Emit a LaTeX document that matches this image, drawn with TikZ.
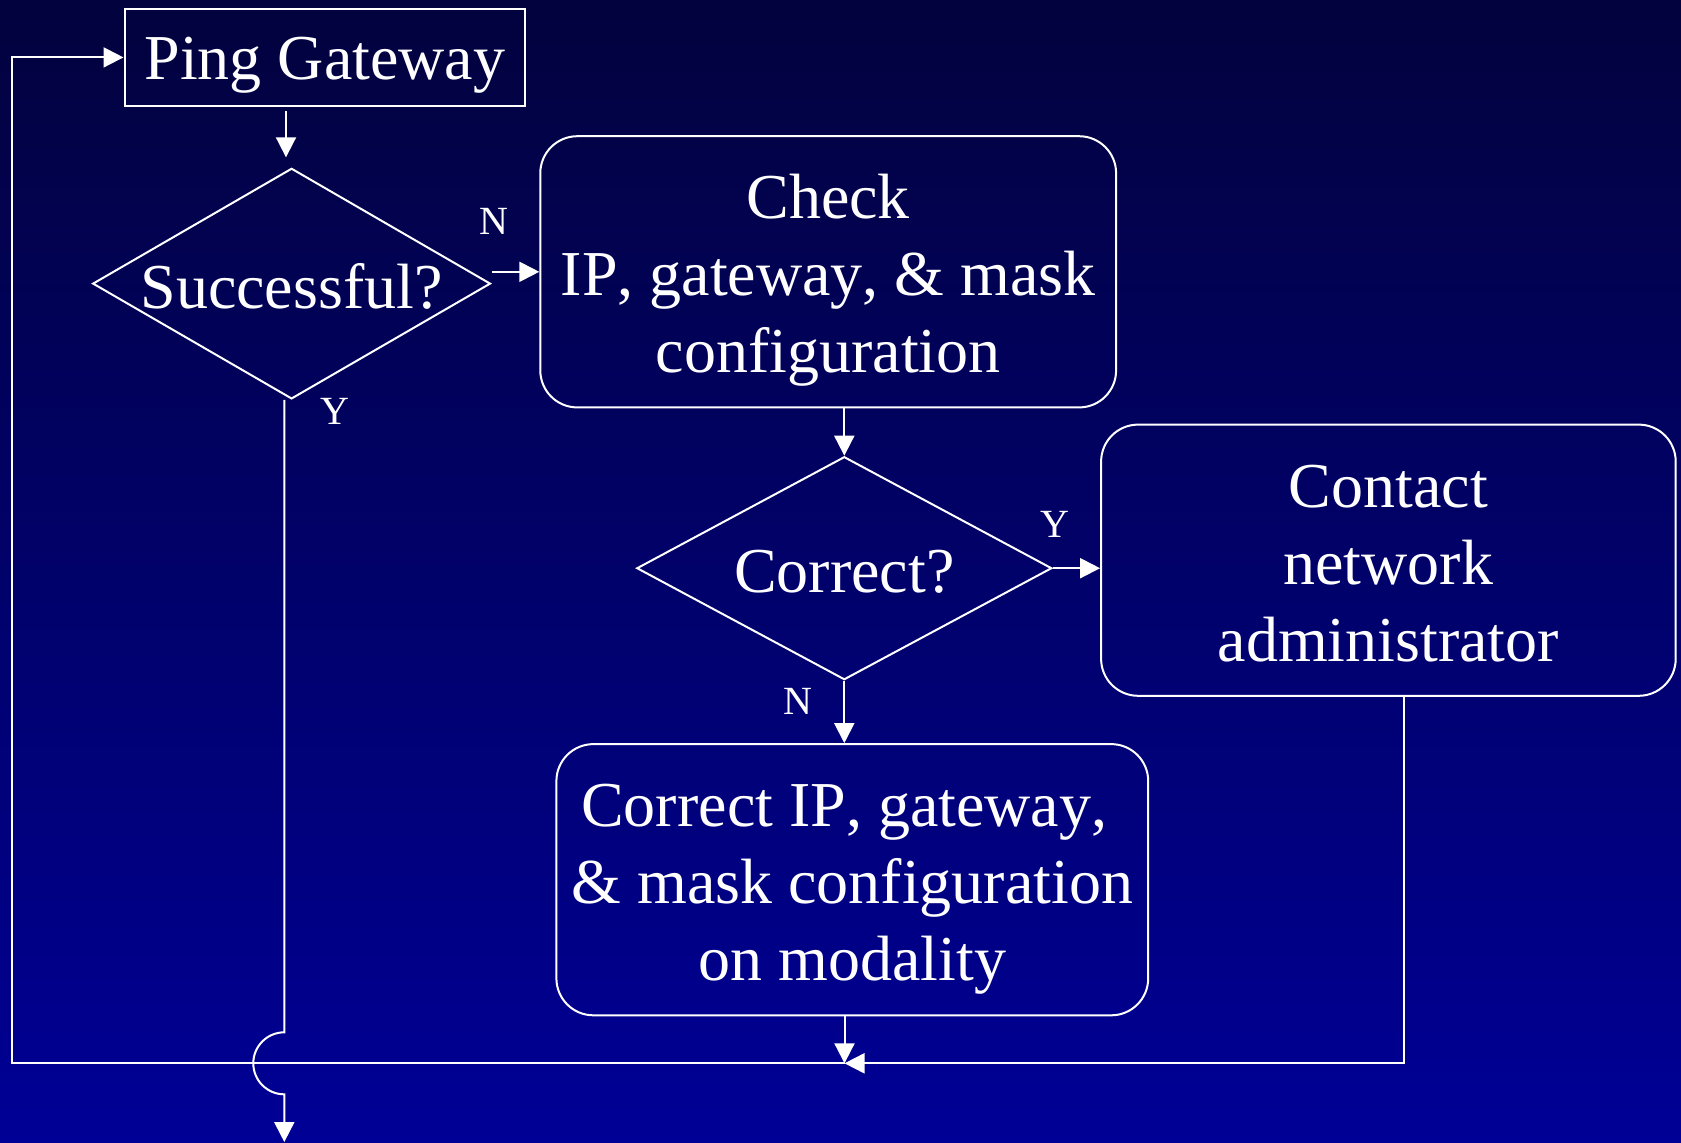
\documentclass[tikz,border=0pt]{standalone}
\usepackage{fontspec}
\setmainfont{Liberation Serif}[Kerning=Off]
\usetikzlibrary{arrows.meta,shapes.geometric,calc}
\definecolor{bgtop}{RGB}{2,2,62}
\definecolor{bgbot}{RGB}{0,0,150}
% text lowered inside its shape without changing the shape
\newcommand\droptext[2]{\raisebox{-#1}[\height][\depth]{\begin{tabular}{@{}c@{}}#2\end{tabular}}}
\newcommand\dropline[2]{\raisebox{-#1}[\height][\depth]{#2}}
\begin{document}
\begin{tikzpicture}[x=0.5pt,y=-0.5pt,
  every node/.style={text=white},
  box/.style={draw=white, line width=1pt, rectangle, inner sep=0pt, align=center,
    font=\fontsize{32}{38.4}\selectfont},
  rbox/.style={box, rounded corners=18.5pt, minimum height=135.6pt},
  dia/.style={draw=white, line width=1pt, diamond, inner sep=0pt,
    font=\fontsize{32}{38.4}\selectfont},
  lbl/.style={font=\fontsize{20}{24}\selectfont, inner sep=0pt},
  arr/.style={draw=white, line width=1pt, -{Triangle[length=10pt,width=10pt]}}]
% background
\useasboundingbox (0,0) rectangle (1681,1142);
\shade[top color=bgtop, bottom color=bgbot] (0,0) rectangle (1681,1142);

% steps and decisions
\node[box, minimum width=200.4pt, minimum height=48.8pt] (ping) at (324.9,57.4)
  {\dropline{3.7pt}{Ping Gateway}};
\node[dia, aspect=1.725, minimum width=198.9pt, minimum height=115.3pt] (d1) at (291.6,283.6)
  {\dropline{1.6pt}{Successful?}};
\node[rbox, minimum width=287.9pt] (check) at (828.2,271.8)
  {\droptext{4.2pt}{Check\\IP, gateway, \& mask\\configuration}};
\node[dia, aspect=1.86, minimum width=207.5pt, minimum height=111.5pt] (d2) at (844.3,568.2)
  {\dropline{1.6pt}{Correct?}};
\node[rbox, minimum width=287.3pt] (contact) at (1388.4,560.2)
  {\droptext{4.6pt}{Contact\\network\\administrator}};
\node[rbox, minimum width=295.9pt] (fix) at (852.3,879.7)
  {\droptext{4.2pt}{Correct IP, gateway,\kern0.25em\\\& mask configuration\\on modality}};

% branch labels
\node[lbl] (nA) at (494,221) {N};
\node[lbl] (yA) at (334.5,411.7) {Y};
\node[lbl] (yB) at (1055,524) {Y};
\node[lbl] (nB) at (797.6,701) {N};

% connectors
\coordinate (join) at (844.5,1063.3);
\coordinate (loop) at (12,57.4);
\coordinate (hop) at (284.3,1032.3);
\coordinate (exit) at (284.3,1142);

\draw[arr] ($(d1.north |- ping.south)+(-5.6,4)$) -- ($(d1.north)+(-5.6,-10)$);
\draw[arr] (d1.east |- check.west) -- (check.west);
\draw[arr] (d2.north |- check.south) -- (d2.north);
\draw[arr] (d2.east) -- (d2.east -| contact.west);
\draw[arr] (d2.south) -- (d2.south |- fix.north);
\draw[arr] (join |- fix.south) -- (join);
\draw[arr] ($(contact.south)+(16,0)$) |- (join);
\draw[arr] (join) -| (loop) -- (ping.west);
\draw[arr] ($(d1.south)+(-7.3,0)$) -- (hop) arc[start angle=90, end angle=270, radius=15.5pt] -- (exit);
\end{tikzpicture}
\end{document}
